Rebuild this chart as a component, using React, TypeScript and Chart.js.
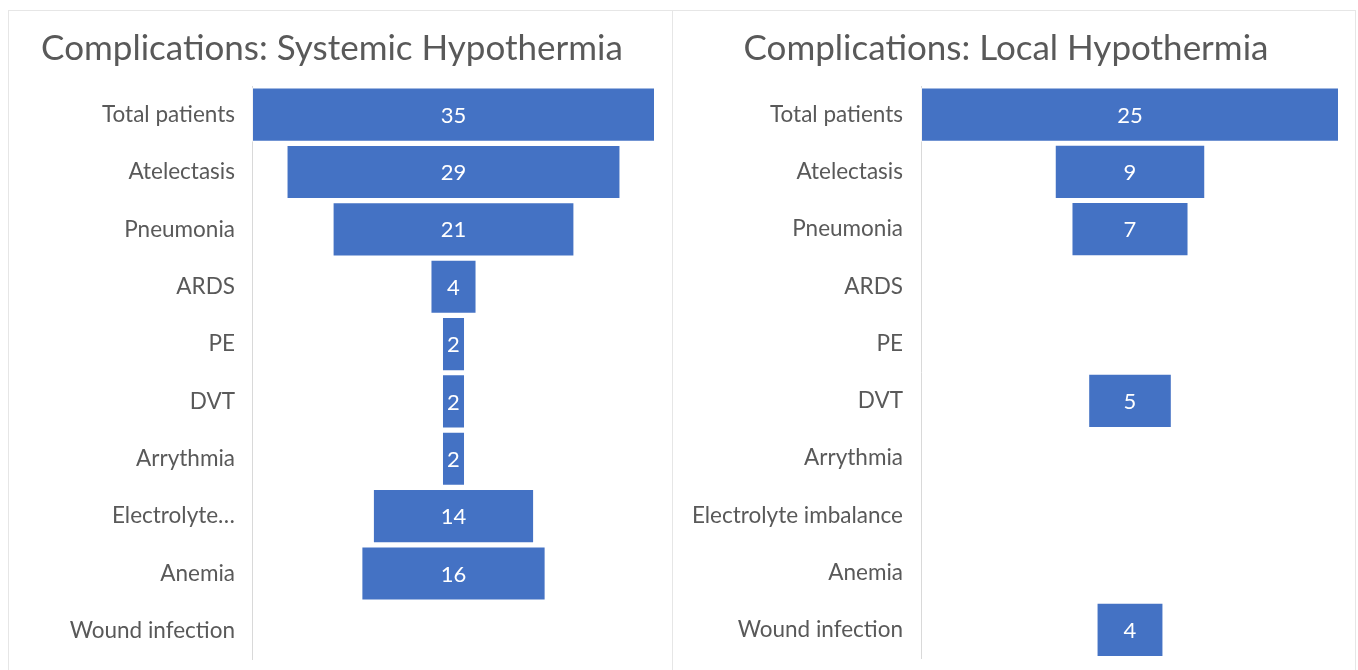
import React, { useEffect, useRef } from "react";
import { Chart, registerables } from "chart.js";

Chart.register(...registerables);

const systemicLabels = [
  "Total patients",
  "Atelectasis",
  "Pneumonia",
  "ARDS",
  "PE",
  "DVT",
  "Arrythmia",
  "Electrolyte…",
  "Anemia",
  "Wound infection",
];
const systemicValues = [35, 29, 21, 4, 2, 2, 2, 14, 16, 0];

const localLabels = [
  "Total patients",
  "Atelectasis",
  "Pneumonia",
  "ARDS",
  "PE",
  "DVT",
  "Arrythmia",
  "Electrolyte imbalance",
  "Anemia",
  "Wound infection",
];
const localValues = [25, 9, 7, 0, 0, 5, 0, 0, 0, 4];

const systemicTitle = "Complications: Systemic Hypothermia";
const localTitle = "Complications: Local Hypothermia";

const FONT = "Lato, 'Open Sans', sans-serif";
const TEXT = "#595959";
const BAR = "#4472C4";

const valueLabelPlugin = {
  id: "valueLabels",
  afterDatasetsDraw(chart: any) {
    const ctx = chart.ctx;
    const meta = chart.getDatasetMeta(0);
    const vals: number[] = chart.data.datasets[0].rawValues;
    ctx.save();
    ctx.fillStyle = "#ffffff";
    ctx.font = `22px ${FONT}`;
    ctx.textAlign = "center";
    ctx.textBaseline = "middle";
    meta.data.forEach((el: any, i: number) => {
      const v = vals[i];
      if (!v) return;
      const cx = (el.x + el.base) / 2;
      ctx.fillText(String(v), cx, el.y + 1);
    });
    ctx.restore();
  },
};

function Funnel({ labels, values, title, axisWidth, padRight, tickPad, w, h }: any) {
  const ref = useRef<HTMLCanvasElement | null>(null);
  useEffect(() => {
    if (!ref.current) return;
    const max = values[0];
    const data = values.map((v: number) => (v > 0 ? [-v / 2, v / 2] : null));
    const chart = new Chart(ref.current, {
      type: "bar",
      data: {
        labels,
        datasets: [
          {
            data,
            rawValues: values,
            backgroundColor: BAR,
            borderColor: "rgba(255,255,255,0.7)",
            borderWidth: 1,
            borderSkipped: false,
            barPercentage: 0.945,
            categoryPercentage: 1,
          } as any,
        ],
      },
      options: {
        indexAxis: "y",
        animation: false,
        responsive: false,
        maintainAspectRatio: false,
        devicePixelRatio: 1,
        layout: { padding: { left: 0, right: padRight, top: 0, bottom: 9 } },
        plugins: {
          legend: { display: false },
          tooltip: { enabled: false },
          title: {
            display: true,
            text: title,
            color: TEXT,
            font: { family: FONT, size: 35, weight: "normal" },
            padding: { top: 17, bottom: 16 },
          },
        },
        scales: {
          x: {
            display: false,
            min: -max / 2,
            max: max / 2,
          },
          y: {
            afterFit(scale: any) {
              scale.width = axisWidth;
            },
            grid: { display: false, drawTicks: false },
            border: { display: true, color: "#d9d9d9", width: 1 },
            ticks: {
              color: TEXT,
              padding: tickPad,
              autoSkip: false,
              font: { family: FONT, size: 22.5 },
            },
          },
        },
      },
      plugins: [valueLabelPlugin],
    } as any);
    return () => chart.destroy();
  }, []);
  return (
    <canvas
      ref={ref}
      width={w}
      height={h}
      style={{ display: "block", width: w, height: h }}
    />
  );
}

export default function App() {
  const panel: React.CSSProperties = {
    position: "absolute",
    top: 10,
    height: 700,
    boxSizing: "border-box",
    border: "1px solid #e6e6e6",
    background: "#fff",
  };
  return (
    <div>
      <div style={{ ...panel, left: 8, width: 665 }}>
        <Funnel
          labels={systemicLabels}
          values={systemicValues}
          title={systemicTitle}
          axisWidth={243}
          padRight={17}
          tickPad={17}
          w={663}
          h={679}
        />
      </div>
      <div style={{ ...panel, left: 672, width: 684 }}>
        <Funnel
          labels={localLabels}
          values={localValues}
          title={localTitle}
          axisWidth={248}
          padRight={16}
          tickPad={18}
          w={682}
          h={679}
        />
      </div>
    </div>
  );
}
